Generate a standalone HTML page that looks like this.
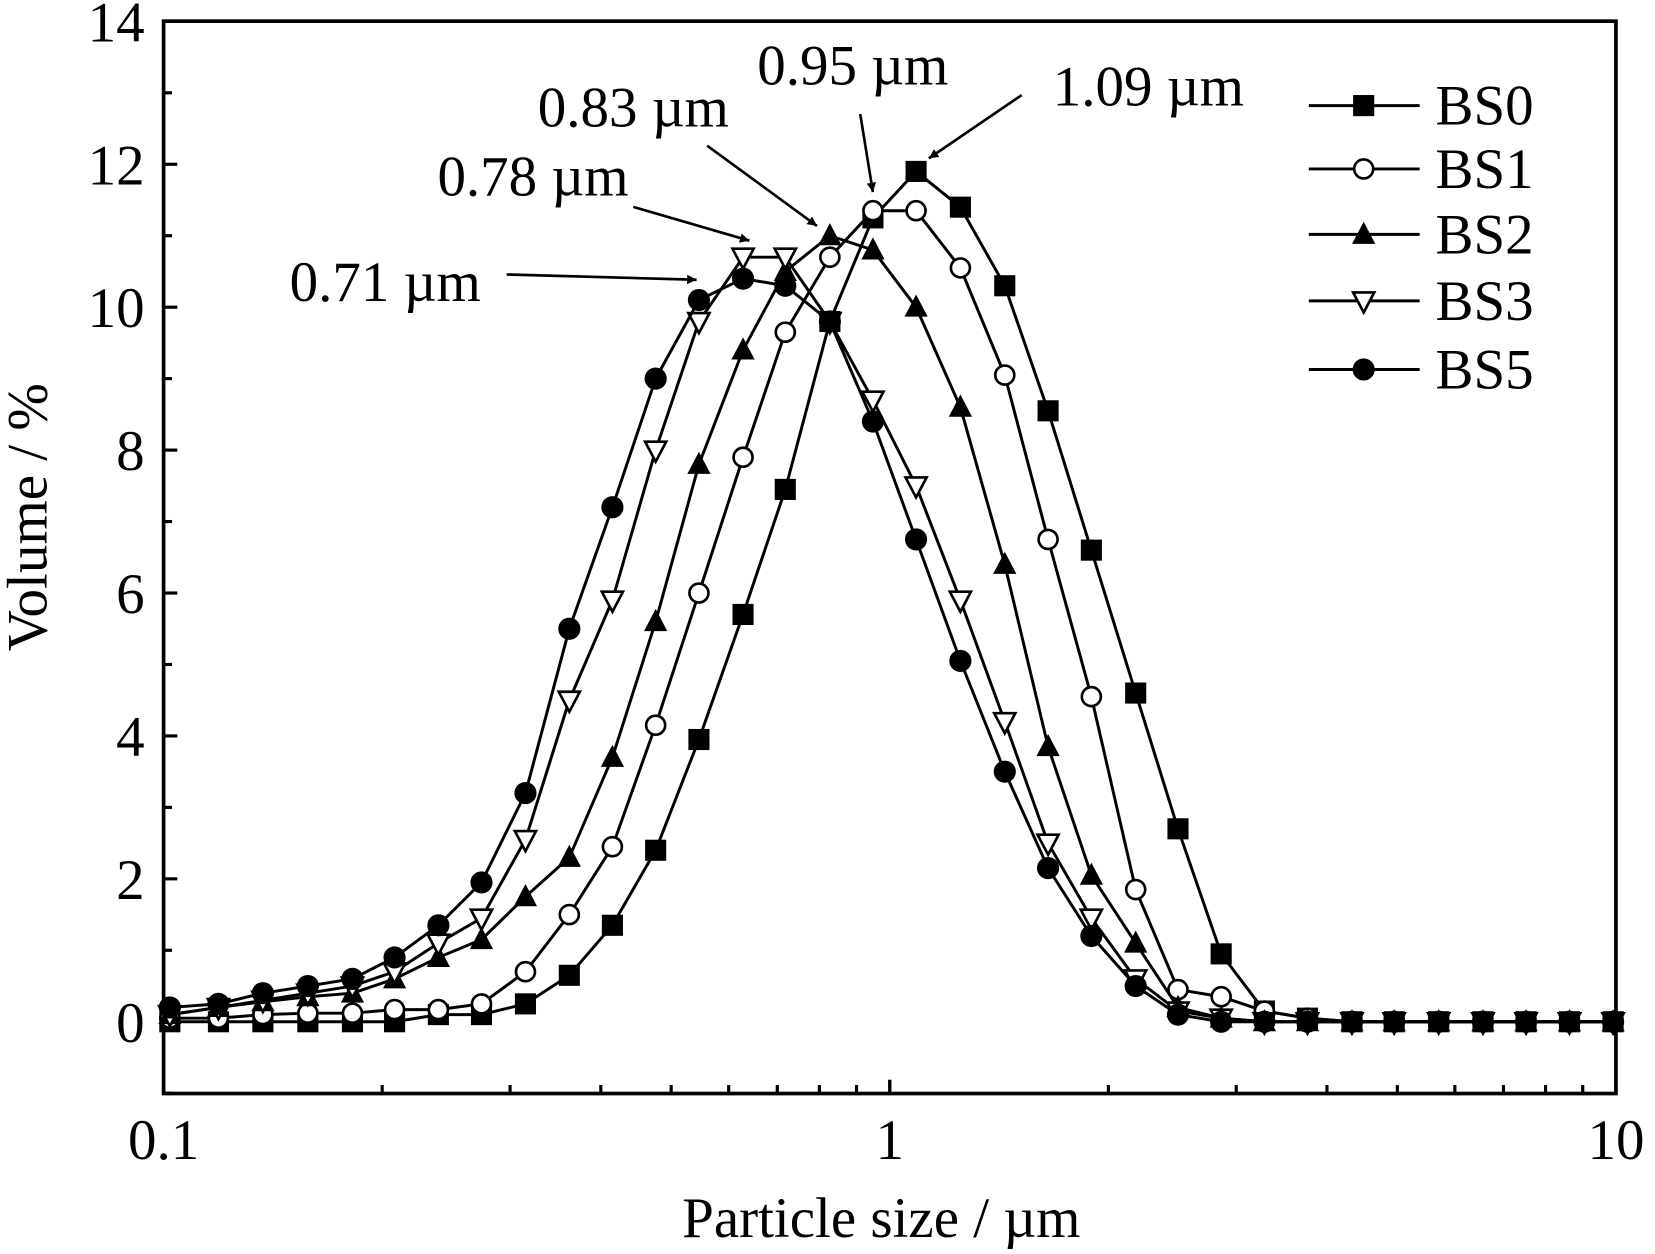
<!DOCTYPE html>
<html><head><meta charset="utf-8"><style>
html,body{margin:0;padding:0;background:#fff;}
svg{display:block;}
text{font-family:"Liberation Serif",serif;fill:#000;}
</style></head><body>
<svg id="chart" width="1655" height="1254" viewBox="0 0 1568 1188" xmlns="http://www.w3.org/2000/svg">
<defs><marker id="ah" viewBox="0 0 10 10" refX="10" refY="5" markerWidth="9" markerHeight="9" orient="auto-start-reverse" markerUnits="userSpaceOnUse"><path d="M0,0 L10,5 L0,10 z" fill="#000"/></marker></defs>
<g id="plot"></g>
</svg>
<script>
const xs=[0.102,0.119,0.137,0.158,0.182,0.208,0.239,0.274,0.315,0.362,0.415,0.476,0.546,0.628,0.718,0.827,0.948,1.087,1.251,1.44,1.652,1.895,2.181,2.494,2.86,3.28,3.76,4.33,4.95,5.7,6.56,7.52,8.63,9.91];
const bs0=[0,0,0,0,0,0,0.1,0.1,0.25,0.65,1.35,2.4,3.95,5.7,7.45,9.8,11.25,11.9,11.4,10.3,8.55,6.6,4.6,2.7,0.95,0.15,0.05,0,0,0,0,0,0,0];
const bs1=[0.05,0.05,0.1,0.12,0.12,0.17,0.17,0.25,0.7,1.5,2.45,4.15,6.0,7.9,9.65,10.7,11.35,11.35,10.55,9.05,6.75,4.55,1.85,0.45,0.35,0.15,0.05,0,0,0,0,0,0,0];
const bs2=[0.1,0.2,0.28,0.35,0.4,0.6,0.9,1.15,1.75,2.3,3.7,5.6,7.8,9.4,10.5,11.0,10.8,10.0,8.6,6.4,3.85,2.05,1.1,0.2,0.05,0,0,0,0,0,0,0,0,0];
const bs3=[0.1,0.2,0.3,0.4,0.5,0.7,1.1,1.45,2.55,4.5,5.9,8.0,9.8,10.7,10.7,9.8,8.7,7.5,5.9,4.2,2.5,1.45,0.6,0.15,0.05,0,0,0,0,0,0,0,0,0];
const bs5=[0.2,0.25,0.4,0.5,0.6,0.9,1.35,1.95,3.2,5.5,7.2,9.0,10.1,10.4,10.3,9.8,8.4,6.75,5.05,3.5,2.15,1.2,0.5,0.1,0,0,0,0,0,0,0,0,0,0];
const yTicks=[0,2,4,6,8,10,12,14];
const xTicks=[0.1,1,10];
const xTickLabels=["0.1","1","10"];
const names=["BS0","BS1","BS2","BS3","BS5"];

const L=155,R=1531,T=20,B=1036;
const X=v=>L+(Math.log10(v)+1)/2*(R-L);
const Y=v=>968-(v)*67.7;
const NS="http://www.w3.org/2000/svg";
const g=document.getElementById('plot');
function el(t,a,p){const e=document.createElementNS(NS,t);for(const k in a)e.setAttribute(k,a[k]);(p||g).appendChild(e);return e;}

// axes frame
const fr=el('rect',{x:L,y:T,width:R-L,height:B-T,fill:'none',stroke:'#000','stroke-width':3.5});


// y ticks
for(let v=-1;v<=14;v++){
 const len=v%2===0?13:8;
 const t=el('line',{x1:L,x2:L+len,y1:Y(v),y2:Y(v),stroke:'#000','stroke-width':3});
 
 
}
yTicks.forEach(v=>{
 const t=el('text',{x:137,y:Y(v)+19,'text-anchor':'end','font-size':54});
 t.textContent=v;
 
 
});
// x ticks
for(let d=0.1;d<10;d*=10){
 for(let m=1;m<=10;m++){
  const v=d*m, len=(m===1||m===10)?13:8;
  const t=el('line',{x1:X(v),x2:X(v),y1:B,y2:B-len,stroke:'#000','stroke-width':3});
  
  
 }
}
xTicks.forEach((v,i)=>{
 const t=el('text',{x:X(v),y:1098,'text-anchor':'middle','font-size':54});
 t.textContent=xTickLabels[i];
 
 
});
// axis titles
const yt=el('text',{x:0,y:0,'text-anchor':'middle','font-size':54,transform:'translate(44,490) rotate(-90)'});
yt.textContent='Volume / %';


const xt=el('text',{x:835,y:1172,'text-anchor':'middle','font-size':54});
xt.textContent='Particle size / µm';



function marker(type,cx,cy,parent){
 const r=10;let m;
 if(type===0)m=el('rect',{x:cx-r,y:cy-r,width:2*r,height:2*r,fill:'#000'},parent);
 else if(type===1)m=el('circle',{cx,cy,r:r-1,fill:'#fff',stroke:'#000','stroke-width':2.5},parent);
 else if(type===2)m=el('path',{d:`M${cx},${cy-12}L${cx+11},${cy+9}L${cx-11},${cy+9}Z`,fill:'#000'},parent);
 else if(type===3)m=el('path',{d:`M${cx},${cy+11}L${cx+10},${cy-8}L${cx-10},${cy-8}Z`,fill:'#fff',stroke:'#000','stroke-width':2.5},parent);
 else m=el('circle',{cx,cy,r:r+0.5,fill:'#000'},parent);
 return m;
}
const series=[bs0,bs1,bs2,bs3,bs5];
series.forEach((s,si)=>{
 const sg=el('g',{});
 
 
 const pts=s.map((v,i)=>X(xs[i])+','+Y(v)).join(' ');
 const pl=el('polyline',{points:pts,fill:'none',stroke:'#000','stroke-width':2.8},sg);
 
 
 s.forEach((v,i)=>{
  const m=marker(si,X(xs[i]),Y(v),sg);
  
  
 });
});
// legend
names.forEach((n,i)=>{
 const ly=[100,160,222,285,350][i];
 const lg=el('g',{});
 
 
 el('line',{x1:1240,x2:1345,y1:ly,y2:ly,stroke:'#000','stroke-width':2.8},lg);
 marker(i,1292,ly,lg);
 const t=el('text',{x:1360,y:ly+18,'font-size':54},lg);
 t.textContent=n;
});
// annotations
const ann=[
 ["0.95 µm",808,80,[815,108,827,182]],
 ["1.09 µm",1088,100,[968,90,880,150]],
 ["0.83 µm",600,120,[670,138,774,214]],
 ["0.78 µm",505,185,[600,196,710,228]],
 ["0.71 µm",365,285,[480,260,660,265]]
];
ann.forEach(a=>{
 const t=el('text',{x:a[1],y:a[2],'text-anchor':'middle','font-size':54});
 t.textContent=a[0];
 
 
 const ar=el('line',{x1:a[3][0],y1:a[3][1],x2:a[3][2],y2:a[3][3],stroke:'#000','stroke-width':2.5,'marker-end':'url(#ah)'});
 
 
});
</script>
</body></html>
